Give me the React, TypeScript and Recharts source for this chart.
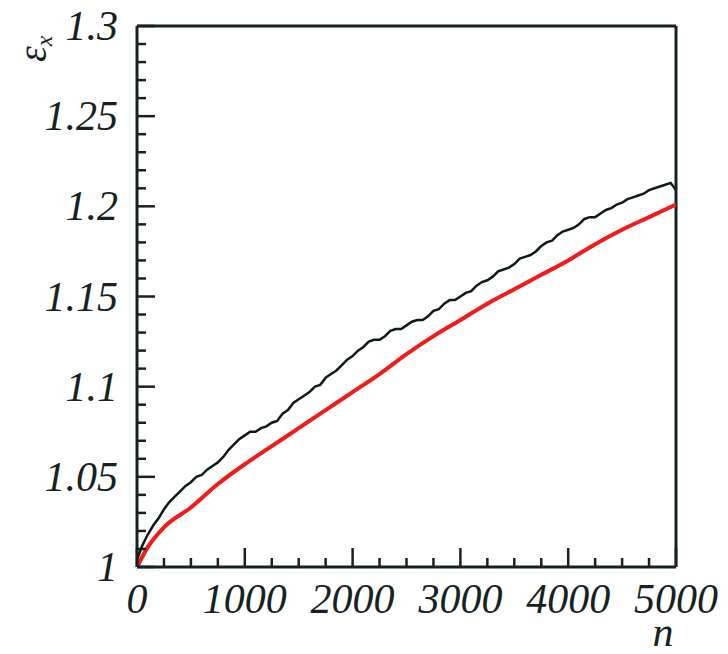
import React from 'react';
import { LineChart, Line, XAxis, YAxis, ReferenceLine } from 'recharts';

// black curve (noisy), [n, eps_x]
const blackCurve = [
  [0, 1.004], [50, 1.012], [100, 1.018], [150, 1.023], [200, 1.027], [250, 1.032],
  [300, 1.036], [350, 1.039], [400, 1.042], [450, 1.045], [500, 1.047], [550, 1.05],
  [600, 1.051], [650, 1.054], [700, 1.056], [750, 1.058], [800, 1.061], [850, 1.065],
  [900, 1.068], [950, 1.071], [1000, 1.073], [1050, 1.075], [1100, 1.075], [1150, 1.077],
  [1200, 1.078], [1250, 1.08], [1300, 1.081], [1350, 1.085], [1400, 1.087], [1450, 1.091],
  [1500, 1.093], [1550, 1.095], [1600, 1.097], [1650, 1.1], [1700, 1.101], [1750, 1.105],
  [1800, 1.107], [1850, 1.109], [1900, 1.112], [1950, 1.115], [2000, 1.117], [2050, 1.12],
  [2100, 1.122], [2150, 1.125], [2200, 1.126], [2250, 1.126], [2300, 1.128], [2350, 1.131],
  [2400, 1.132], [2450, 1.132], [2500, 1.134], [2550, 1.136], [2600, 1.137], [2650, 1.137],
  [2700, 1.139], [2750, 1.142], [2800, 1.143], [2850, 1.146], [2900, 1.148], [2950, 1.148],
  [3000, 1.15], [3050, 1.152], [3100, 1.153], [3150, 1.156], [3200, 1.158], [3250, 1.159],
  [3300, 1.161], [3350, 1.164], [3400, 1.165], [3450, 1.166], [3500, 1.168], [3550, 1.171],
  [3600, 1.172], [3650, 1.173], [3700, 1.175], [3750, 1.178], [3800, 1.18], [3850, 1.181],
  [3900, 1.184], [3950, 1.186], [4000, 1.187], [4050, 1.188], [4100, 1.19], [4150, 1.193],
  [4200, 1.194], [4250, 1.194], [4300, 1.196], [4350, 1.198], [4400, 1.199], [4450, 1.201],
  [4500, 1.202], [4550, 1.204], [4600, 1.205], [4650, 1.206], [4700, 1.207], [4750, 1.209],
  [4800, 1.21], [4850, 1.211], [4900, 1.212], [4950, 1.213], [5000, 1.209],
];

// red curve (smooth)
const redCurve = [
  [0, 1.0], [100, 1.011], [250, 1.022], [500, 1.033], [750, 1.046], [1000, 1.057],
  [1250, 1.067], [1500, 1.077], [1750, 1.087], [2000, 1.097], [2250, 1.107], [2500, 1.118],
  [2750, 1.128], [3000, 1.137], [3250, 1.146], [3500, 1.154], [3750, 1.162], [4000, 1.17],
  [4250, 1.179], [4500, 1.187], [4750, 1.194], [5000, 1.201],
];

const xTicks = [
  0, 250, 500, 750, 1000, 1250, 1500, 1750, 2000, 2250, 2500, 2750, 3000, 3250, 3500,
  3750, 4000, 4250, 4500, 4750, 5000,
];
const yTicks = [
  1, 1.01, 1.02, 1.03, 1.04, 1.05, 1.06, 1.07, 1.08, 1.09, 1.1, 1.11, 1.12, 1.13, 1.14,
  1.15, 1.16, 1.17, 1.18, 1.19, 1.2, 1.21, 1.22, 1.23, 1.24, 1.25, 1.26, 1.27, 1.28, 1.29, 1.3,
];

const toPoints = (arr: number[][]) => arr.map(([n, eps]) => ({ n, eps }));

const FRAME = '#162222';
const FONT = '"Liberation Serif", "Times New Roman", serif';

const XTick = (props: any) => {
  const { x, y, payload } = props;
  const major = payload.value % 1000 === 0;
  return (
    <g>
      <line x1={x} x2={x} y1={y} y2={y - (major ? 19 : 9)} stroke={FRAME} strokeWidth={2.5} />
      {major && (
        <text x={x} y={y + 46} textAnchor="middle" fontFamily={FONT} fontStyle="italic" fontSize={42} fill={FRAME}>
          {payload.value}
        </text>
      )}
    </g>
  );
};

const YTick = (props: any) => {
  const { x, y, payload } = props;
  const major = Math.round(payload.value * 100) % 5 === 0;
  return (
    <g>
      <line x1={x} x2={x + (major ? 18 : 9)} y1={y} y2={y} stroke={FRAME} strokeWidth={2.5} />
      {major && (
        <text x={x - 19} y={y + 14} textAnchor="end" fontFamily={FONT} fontStyle="italic" fontSize={42} fill={FRAME}>
          {String(payload.value)}
        </text>
      )}
    </g>
  );
};

export default function App() {
  return (
    <div style={{ position: 'absolute', left: 0, top: 0, width: 728, height: 654, background: '#fff' }}>
      <LineChart width={728} height={654} margin={{ top: 26, right: 52, bottom: 0, left: 0 }}>
        <XAxis
          dataKey="n"
          type="number"
          domain={[0, 5000]}
          ticks={xTicks}
          interval={0}
          tickSize={0}
          tickMargin={0}
          tickLine={false}
          tick={<XTick />}
          axisLine={{ stroke: FRAME, strokeWidth: 3 }}
          height={87}
          allowDataOverflow
        />
        <YAxis
          dataKey="eps"
          type="number"
          domain={[1, 1.3]}
          ticks={yTicks}
          interval={0}
          tickSize={0}
          tickMargin={0}
          tickLine={false}
          tick={<YTick />}
          axisLine={{ stroke: FRAME, strokeWidth: 3 }}
          width={137}
          allowDataOverflow
        />
        <ReferenceLine y={1.3} stroke={FRAME} strokeWidth={3} />
        <ReferenceLine x={5000} stroke={FRAME} strokeWidth={3} />
        <Line
          data={toPoints(blackCurve)}
          dataKey="eps"
          type="linear"
          stroke="#0e1a16"
          strokeWidth={2.5}
          dot={false}
          isAnimationActive={false}
        />
        <Line
          data={toPoints(redCurve)}
          dataKey="eps"
          type="monotone"
          stroke="#f21a1a"
          strokeWidth={4}
          dot={false}
          isAnimationActive={false}
        />
      </LineChart>
      {/* axis titles */}
      <svg width={728} height={654} style={{ position: 'absolute', left: 0, top: 0, pointerEvents: 'none' }}>
        <text transform="translate(46,62) rotate(-90)" fontFamily={FONT} fontStyle="italic" fontSize={40} fill={FRAME}>
          ε<tspan fontSize={24} dy={6}>x</tspan>
        </text>
        <text x={663} y={646} textAnchor="middle" fontFamily={FONT} fontStyle="italic" fontSize={42} fill={FRAME}>
          n
        </text>
      </svg>
    </div>
  );
}
